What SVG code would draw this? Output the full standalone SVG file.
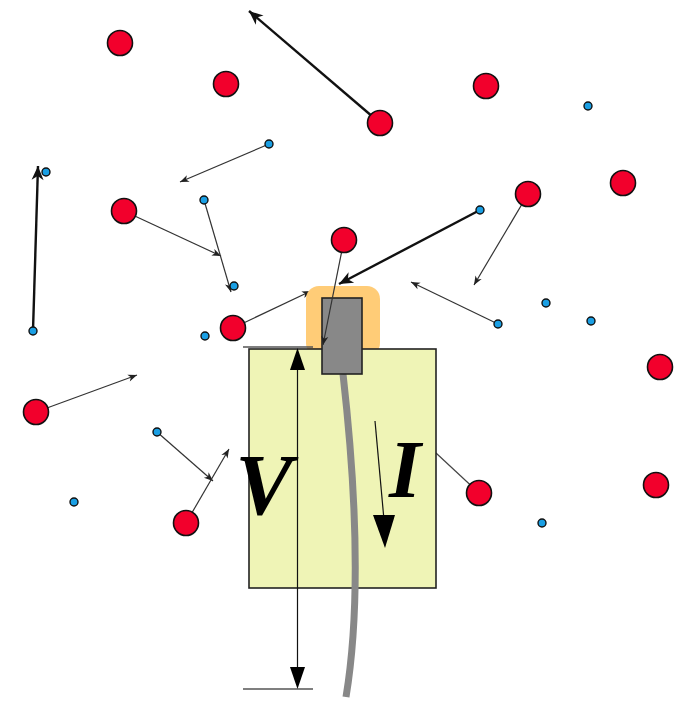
<svg xmlns="http://www.w3.org/2000/svg" width="681" height="701" viewBox="0 0 681 701">
  <style>
    .ion { fill: #f2002c; stroke: #111; stroke-width: 1.6; }
    .el { fill: #1a9fe4; stroke: #111; stroke-width: 1.4; }
    .thin { fill: none; stroke: #333; stroke-width: 1.2; marker-end: url(#headS); }
    .thick { fill: none; stroke: #111; stroke-width: 2.4; marker-end: url(#headL); }
    .plain { fill: none; stroke: #444; stroke-width: 1.2; }
    .dim { fill: none; stroke: #111; stroke-width: 1.2; }
    .tick { fill: none; stroke: #555; stroke-width: 1.3; }
    .lbl { font-family: "Liberation Serif", "DejaVu Serif", serif; font-style: italic; font-weight: bold; fill: #000; }
  </style>
  <defs>
    <marker id="headS" viewBox="-10 -5 12 10" markerWidth="12" markerHeight="10" refX="0" refY="0" orient="auto" markerUnits="userSpaceOnUse">
      <path d="M0,0 L-9,-3.6 L-6.5,0 L-9,3.6 Z" fill="#222"/>
    </marker>
    <marker id="headL" viewBox="-16 -7 18 14" markerWidth="18" markerHeight="14" refX="0" refY="0" orient="auto" markerUnits="userSpaceOnUse">
      <path d="M0,0 L-14,-6 L-10,0 L-14,6 Z" fill="#111"/>
    </marker>
  </defs>

  <rect width="681" height="701" fill="#fff"/>

  <!-- connectors: velocity arrows and the link from the ion to the probe body -->
  <g id="connectors">
    <line class="thick" x1="380" y1="123" x2="249" y2="11"/>
    <line class="thick" x1="33" y1="331" x2="38" y2="166"/>
    <line class="thick" x1="480" y1="210" x2="339" y2="284"/>
    <line class="thin" x1="269" y1="144" x2="180" y2="182"/>
    <line class="thin" x1="124" y1="211" x2="221" y2="256"/>
    <line class="thin" x1="204" y1="200" x2="231" y2="292"/>
    <line class="thin" x1="233" y1="328" x2="311" y2="291"/>
    <line class="thin" x1="528" y1="194" x2="474" y2="285"/>
    <line class="thin" x1="498" y1="324" x2="411" y2="282"/>
    <line class="thin" x1="36" y1="412" x2="137" y2="375"/>
    <line class="thin" x1="157" y1="432" x2="213" y2="481"/>
    <line class="thin" x1="186" y1="523" x2="229" y2="449"/>
    <line class="plain" x1="479" y1="493" x2="436" y2="453"/>
  </g>

  <!-- probe: sheath, holder block, tip and cable -->
  <g id="probe">
    <rect id="sheath" x="306" y="286" width="74" height="70" rx="13" fill="#ffcc77"/>
    <rect id="holder" x="249" y="349" width="187" height="239" fill="#eff4b6" stroke="#222" stroke-width="1.6"/>
    <path id="cable" d="M343,374 C355,480 362,600 346,697" fill="none" stroke="#888" stroke-width="7"/>
    <rect id="tip" x="322" y="298" width="40" height="76" fill="#888" stroke="#222" stroke-width="1.6"/>
  </g>

  <!-- ion heading into the tip (drawn over the sheath) -->
  <g id="connectors-over">
    <line class="thin" x1="344" y1="240" x2="323" y2="345"/>
  </g>

  <!-- voltage dimension -->
  <g id="voltage">
    <line class="tick" x1="243" y1="347" x2="313" y2="347"/>
    <line class="tick" x1="243" y1="689" x2="313" y2="689"/>
    <line class="dim" x1="297.5" y1="360" x2="297.5" y2="676"/>
    <path d="M297.5,348 L290,370 L305,370 Z" fill="#000"/>
    <path d="M297.5,689 L290,667 L305,667 Z" fill="#000"/>
    <text class="lbl" x="264" y="514" font-size="86" text-anchor="middle">V</text>
  </g>

  <!-- current arrow -->
  <g id="current">
    <line class="dim" x1="375" y1="421" x2="384" y2="520"/>
    <path d="M385,548 L373,515 L395,515 Z" fill="#000"/>
    <text class="lbl" x="405" y="497" font-size="82" text-anchor="middle">I</text>
  </g>

  <!-- ions -->
  <g id="ion-1"><circle class="ion" cx="120" cy="43" r="12.5"/></g>
  <g id="ion-2"><circle class="ion" cx="226" cy="84" r="12.5"/></g>
  <g id="ion-3"><circle class="ion" cx="380" cy="123" r="12.5"/></g>
  <g id="ion-4"><circle class="ion" cx="486" cy="86" r="12.5"/></g>
  <g id="ion-5"><circle class="ion" cx="623" cy="183" r="12.5"/></g>
  <g id="ion-6"><circle class="ion" cx="528" cy="194" r="12.5"/></g>
  <g id="ion-7"><circle class="ion" cx="124" cy="211" r="12.5"/></g>
  <g id="ion-8"><circle class="ion" cx="344" cy="240" r="12.5"/></g>
  <g id="ion-9"><circle class="ion" cx="233" cy="328" r="12.5"/></g>
  <g id="ion-10"><circle class="ion" cx="660" cy="367" r="12.5"/></g>
  <g id="ion-11"><circle class="ion" cx="36" cy="412" r="12.5"/></g>
  <g id="ion-12"><circle class="ion" cx="479" cy="493" r="12.5"/></g>
  <g id="ion-13"><circle class="ion" cx="656" cy="485" r="12.5"/></g>
  <g id="ion-14"><circle class="ion" cx="186" cy="523" r="12.5"/></g>

  <!-- electrons -->
  <g id="el-1"><circle class="el" cx="588" cy="106" r="4"/></g>
  <g id="el-2"><circle class="el" cx="46" cy="172" r="4"/></g>
  <g id="el-3"><circle class="el" cx="269" cy="144" r="4"/></g>
  <g id="el-4"><circle class="el" cx="204" cy="200" r="4"/></g>
  <g id="el-5"><circle class="el" cx="480" cy="210" r="4"/></g>
  <g id="el-6"><circle class="el" cx="234" cy="286" r="4"/></g>
  <g id="el-7"><circle class="el" cx="33" cy="331" r="4"/></g>
  <g id="el-8"><circle class="el" cx="205" cy="336" r="4"/></g>
  <g id="el-9"><circle class="el" cx="546" cy="303" r="4"/></g>
  <g id="el-10"><circle class="el" cx="498" cy="324" r="4"/></g>
  <g id="el-11"><circle class="el" cx="591" cy="321" r="4"/></g>
  <g id="el-12"><circle class="el" cx="157" cy="432" r="4"/></g>
  <g id="el-13"><circle class="el" cx="74" cy="502" r="4"/></g>
  <g id="el-14"><circle class="el" cx="542" cy="523" r="4"/></g>
</svg>
